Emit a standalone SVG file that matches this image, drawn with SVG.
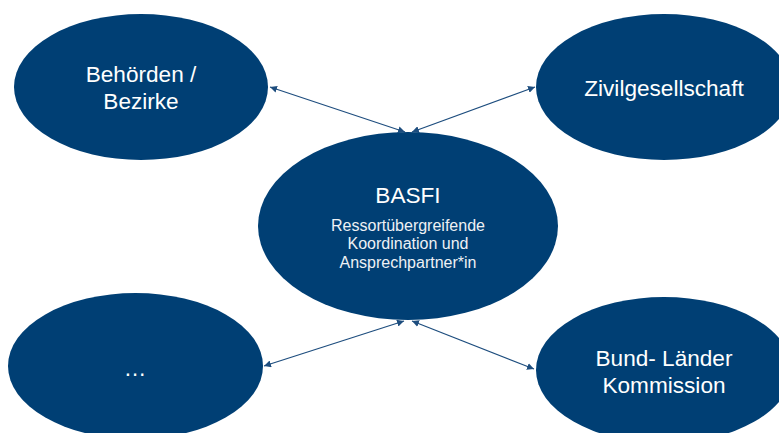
<svg xmlns="http://www.w3.org/2000/svg" width="779" height="433" viewBox="0 0 779 433">
<defs>
<style>
.node{fill:#003f74}
.t{font-family:"Liberation Sans",Arial,sans-serif;fill:#ffffff;text-anchor:middle}
.big{font-size:22.6px}
.small{font-size:16px;fill:#eef1f5}
.conn line{stroke:#1d4d7e;stroke-width:1.2;fill:none}
</style>
<marker id="ah" viewBox="0 0 10 10" refX="10" refY="5" markerWidth="7" markerHeight="7" markerUnits="userSpaceOnUse" orient="auto-start-reverse">
<path d="M0,0 L10,5 L0,10 z" fill="#1d4d7e"/>
</marker>
</defs>
<rect width="779" height="433" fill="#ffffff"/>
<g id="connectors" class="conn">
<line x1="270" y1="87" x2="405" y2="132" marker-start="url(#ah)" marker-end="url(#ah)"/>
<line x1="412" y1="132" x2="535" y2="87" marker-start="url(#ah)" marker-end="url(#ah)"/>
<line x1="404" y1="321" x2="264" y2="366" marker-start="url(#ah)" marker-end="url(#ah)"/>
<line x1="412" y1="321" x2="534" y2="369" marker-start="url(#ah)" marker-end="url(#ah)"/>
</g>
<g id="behoerden">
<ellipse class="node" cx="141" cy="87" rx="127" ry="73"/>
<text class="t big" x="141" y="82">Behörden /</text>
<text class="t big" x="141" y="109">Bezirke</text>
</g>
<g id="zivilgesellschaft">
<ellipse class="node" cx="664" cy="87" rx="128" ry="73"/>
<text class="t big" x="664" y="96">Zivilgesellschaft</text>
</g>
<g id="basfi">
<ellipse class="node" cx="408" cy="226" rx="150" ry="94"/>
<text class="t big" x="408" y="203">BASFI</text>
<text class="t small" x="408" y="231">Ressortübergreifende</text>
<text class="t small" x="408" y="249">Koordination und</text>
<text class="t small" x="408" y="268">Ansprechpartner*in</text>
</g>
<g id="other">
<ellipse class="node" cx="135.5" cy="366" rx="127.5" ry="73"/>
<text class="t big" x="135" y="376">…</text>
</g>
<g id="bund-laender">
<ellipse class="node" cx="664" cy="370" rx="128" ry="73"/>
<text class="t big" x="664" y="366">Bund- Länder</text>
<text class="t big" x="664" y="393">Kommission</text>
</g>
</svg>
